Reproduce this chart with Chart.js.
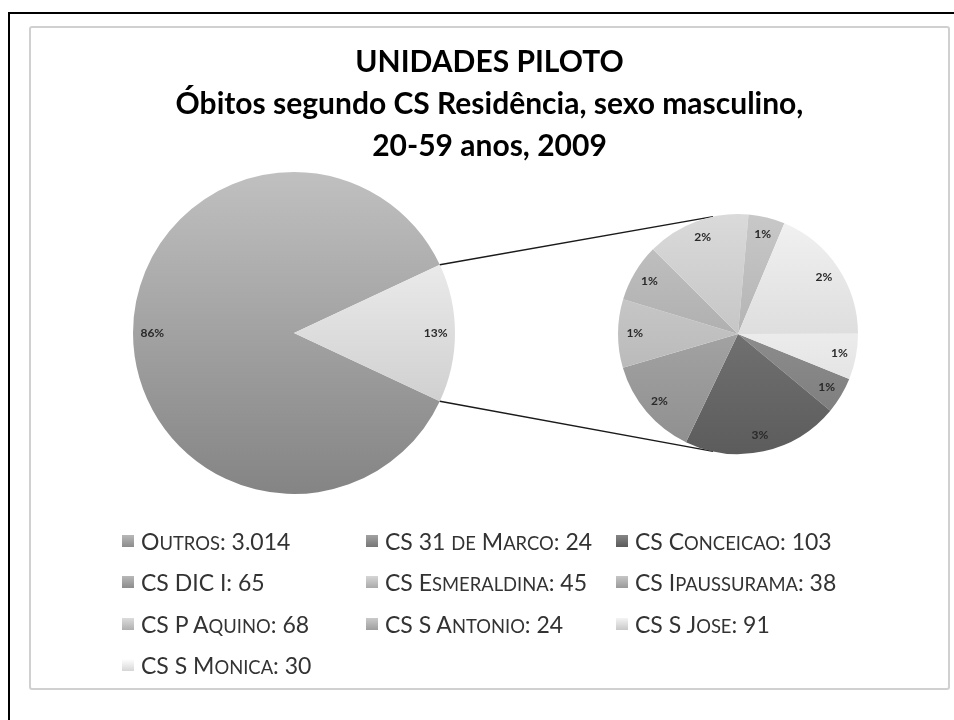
<!DOCTYPE html>
<html lang="pt-BR">
<head>
<meta charset="utf-8">
<title>Unidades Piloto - Óbitos</title>
<script src="https://cdn.jsdelivr.net/npm/chart.js@4.4.1/dist/chart.umd.min.js"></script>
<style>
  html, body { margin: 0; padding: 0; background: #fff; }
  #page { position: relative; width: 954px; height: 720px; overflow: hidden; background: #fff; }
  #frame { position: absolute; left: 8px; top: 12px; width: 1000px; height: 800px;
           border-left: 2px solid #000; border-top: 2px solid #000; }
  #box { position: absolute; left: 29px; top: 26px; width: 917px; height: 660px;
         border: 2px solid #d0d0d0; border-radius: 3px; background: #fff; }
  #mainChart { position: absolute; left: 0; top: 0; }
  #detailChart { position: absolute; left: 577px; top: 176px; }
  #legend { position: absolute; left: 91px; top: 492px; margin: 0; padding: 0; list-style: none;
            display: grid; grid-template-columns: 244px 250px 240px; grid-auto-rows: 41.5px;
            font-family: Lato, sans-serif; font-size: 23px; color: #333; }
  #legend li { display: flex; align-items: center; white-space: nowrap; }
  #legend .swatch { width: 12px; height: 12px; margin-right: 7px; flex: none; }
  #legend .sc { font-size: 0.8em; text-transform: uppercase; }
</style>
</head>
<body>
<div id="page">
  <div id="frame"></div>
  <div id="box">
    <canvas id="mainChart" width="917" height="660"></canvas>
    <canvas id="detailChart" width="260" height="260"></canvas>
    <ul id="legend"></ul>
  </div>
</div>
<script>
// Chart data
const titleLines = ['UNIDADES PILOTO', 'Óbitos segundo CS Residência, sexo masculino,', '20-59 anos, 2009'];

const otherName = 'Outros';
const otherValue = 3014;

const unitNames = ['CS 31 de Marco', 'CS Conceicao', 'CS DIC I', 'CS Esmeraldina', 'CS Ipaussurama',
                   'CS P Aquino', 'CS S Antonio', 'CS S Jose', 'CS S Monica'];
const unitValues = [24, 103, 65, 45, 38, 68, 24, 91, 30];

// percentage labels as printed on the slices
const mainPctLabels = ['86%', '13%'];
const unitPctLabels = ['1%', '3%', '2%', '1%', '1%', '2%', '1%', '2%', '1%'];

// gray levels (0-255) at slice centre
const mainGrays = [162, 221];
const unitGrays = [140, 112, 162, 192, 176, 198, 180, 222, 236];

const pilotTotal = unitValues.reduce((s, v) => s + v, 0);
const mainValues = [otherValue, pilotTotal];

function gray(level) {
  const v = Math.max(0, Math.min(255, Math.round(level)));
  return `rgb(${v}, ${v}, ${v})`;
}

// Excel-like vertical shading over the whole pie
function shadedFill(levels, spread) {
  return ctx => {
    const level = levels[ctx.dataIndex];
    const area = ctx.chart.chartArea;
    if (!area) return gray(level);
    const g = ctx.chart.ctx.createLinearGradient(0, area.top, 0, area.bottom);
    g.addColorStop(0, gray(level + spread));
    g.addColorStop(1, gray(level - spread));
    return g;
  };
}

// Reserve room on the right of the main pie without moving the title
const rightSpacer = {
  id: 'rightSpacer',
  start(chart, args, opts) {
    Chart.layouts.addBox(chart, {
      position: 'right', weight: 0, fullSize: false, options: {},
      left: 0, top: 0, right: 0, bottom: 0, width: 0, height: 0,
      isHorizontal() { return false; },
      update(maxWidth, maxHeight) { this.width = opts.width; this.height = maxHeight; },
      draw() {}
    });
  }
};

// Percent labels inside slices
const sliceLabels = {
  id: 'sliceLabels',
  afterDatasetsDraw(chart, args, opts) {
    const ctx = chart.ctx;
    const arcs = chart.getDatasetMeta(0).data;
    ctx.save();
    ctx.font = 'bold 12px Lato, sans-serif';
    ctx.fillStyle = '#2a2a2a';
    ctx.textAlign = 'center';
    ctx.textBaseline = 'middle';
    arcs.forEach((arc, i) => {
      const {x, y, startAngle, endAngle, outerRadius} = arc.getProps(['x', 'y', 'startAngle', 'endAngle', 'outerRadius'], true);
      const mid = (startAngle + endAngle) / 2;
      const r = outerRadius * opts.position;
      ctx.fillText(opts.labels[i], x + Math.cos(mid) * r, y + Math.sin(mid) * r);
    });
    ctx.restore();
  }
};

// Lines joining the pilot slice to the detail pie
const connectors = {
  id: 'connectors',
  afterDatasetsDraw(chart) {
    if (!detailChart) return;
    const arc = chart.getDatasetMeta(0).data[1];
    const detailArc = detailChart.getDatasetMeta(0).data[0];
    const dx = detailChart.canvas.offsetLeft - chart.canvas.offsetLeft;
    const dy = detailChart.canvas.offsetTop - chart.canvas.offsetTop;
    const cx2 = detailArc.x + dx;
    const cy2 = detailArc.y + dy;
    const r2 = detailArc.outerRadius;
    const tilt = 102 * Math.PI / 180;
    const ctx = chart.ctx;
    ctx.save();
    ctx.strokeStyle = '#1a1a1a';
    ctx.lineWidth = 1.5;
    ctx.beginPath();
    ctx.moveTo(arc.x + Math.cos(arc.startAngle) * arc.outerRadius, arc.y + Math.sin(arc.startAngle) * arc.outerRadius);
    ctx.lineTo(cx2 + Math.cos(-tilt) * r2, cy2 + Math.sin(-tilt) * r2);
    ctx.moveTo(arc.x + Math.cos(arc.endAngle) * arc.outerRadius, arc.y + Math.sin(arc.endAngle) * arc.outerRadius);
    ctx.lineTo(cx2 + Math.cos(tilt) * r2, cy2 + Math.sin(tilt) * r2);
    ctx.stroke();
    ctx.restore();
  }
};

let detailChart = null;
let mainChart = null;

detailChart = new Chart(document.getElementById('detailChart'), {
  type: 'pie',
  data: {
    labels: unitNames,
    datasets: [{ data: unitValues, backgroundColor: shadedFill(unitGrays, 20), borderWidth: 0 }]
  },
  options: {
    responsive: false,
    animation: false,
    events: [],
    rotation: 112,
    layout: { padding: 10 },
    plugins: {
      legend: { display: false },
      tooltip: { enabled: false },
      sliceLabels: { labels: unitPctLabels, position: 0.86 }
    }
  },
  plugins: [sliceLabels]
});

mainChart = new Chart(document.getElementById('mainChart'), {
  type: 'pie',
  data: {
    labels: [otherName, 'Unidades piloto'],
    datasets: [{ data: mainValues, backgroundColor: shadedFill(mainGrays, 30), borderWidth: 0 }]
  },
  options: {
    responsive: false,
    animation: false,
    events: [],
    rotation: 90 + pilotTotal / (otherValue + pilotTotal) * 180,
    layout: { padding: { bottom: 194 } },
    plugins: {
      legend: { display: false },
      tooltip: { enabled: false },
      title: {
        display: true,
        text: titleLines,
        color: '#000',
        font: { family: 'Lato, sans-serif', size: 30, weight: 'bold', lineHeight: '42px' },
        padding: { top: 13, bottom: 5 }
      },
      rightSpacer: { width: 391 },
      sliceLabels: { labels: mainPctLabels, position: 0.88 }
    }
  },
  plugins: [rightSpacer, sliceLabels, connectors]
});

// HTML legend in three columns, lowercase shown as small capitals
function formatCount(v) {
  return String(v).replace(/\B(?=(\d{3})+(?!\d))/g, '.');
}

function smallCapsLabel(text) {
  const label = document.createElement('span');
  text.split(/([a-zà-ÿ]+)/).forEach(part => {
    if (!part) return;
    if (/^[a-zà-ÿ]+$/.test(part)) {
      const sc = document.createElement('span');
      sc.className = 'sc';
      sc.textContent = part;
      label.appendChild(sc);
    } else {
      label.appendChild(document.createTextNode(part));
    }
  });
  return label;
}

function buildLegend() {
  const list = document.getElementById('legend');
  const items = [{ name: otherName, value: otherValue, level: mainGrays[0] }]
    .concat(unitNames.map((n, i) => ({ name: n, value: unitValues[i], level: unitGrays[i] })));
  items.forEach(item => {
    const li = document.createElement('li');
    const sw = document.createElement('span');
    sw.className = 'swatch';
    sw.style.background = `linear-gradient(${gray(item.level + 22)}, ${gray(item.level - 22)})`;
    li.appendChild(sw);
    li.appendChild(smallCapsLabel(`${item.name}: ${formatCount(item.value)}`));
    list.appendChild(li);
  });
}

buildLegend();
</script>
</body>
</html>
